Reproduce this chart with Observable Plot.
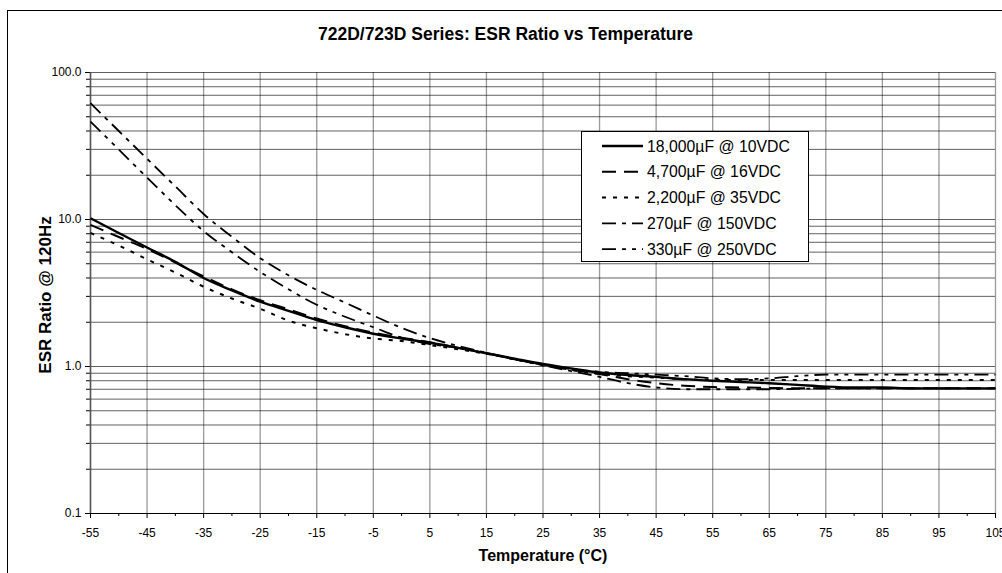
<!DOCTYPE html>
<html><head><meta charset="utf-8">
<script src="https://cdn.jsdelivr.net/npm/d3@7"></script>
<script src="https://cdn.jsdelivr.net/npm/@observablehq/plot@0.6"></script>
<style>
body{margin:0;background:#fff;font-family:"Liberation Sans",Arial,sans-serif;}
#wrap{position:relative;width:1002px;height:573px;overflow:hidden;background:#fff;}
#wrap svg{position:absolute;left:0;top:0;}
#border{position:absolute;left:7px;top:10px;width:1100px;height:700px;border:1px solid #000;box-sizing:border-box;pointer-events:none;}
</style></head><body><div id="wrap"><div id="border"></div></div>
<script>
const titleText = "722D/723D Series: ESR Ratio vs Temperature";
const xLabel = "Temperature (°C)";
const yLabel = "ESR Ratio @ 120Hz";

const temps = [-55,-50,-45,-40,-35,-30,-25,-20,-15,-10,-5,0,5,10,15,20,25,30,35,40,45,50,55,60,65,70,75,80,85,90,95,100,105];
const s18000_10 = [10.2,8.1,6.45,5.15,4.0,3.29,2.76,2.39,2.07,1.85,1.67,1.55,1.45,1.34,1.23,1.13,1.04,0.97,0.91,0.875,0.85,0.82,0.80,0.785,0.77,0.75,0.73,0.72,0.72,0.71,0.71,0.71,0.71];
const s4700_16 = [9.2,7.6,6.3,5.1,4.1,3.35,2.82,2.45,2.12,1.88,1.70,1.57,1.46,1.34,1.23,1.12,1.03,0.95,0.89,0.82,0.77,0.74,0.725,0.72,0.715,0.71,0.71,0.71,0.71,0.71,0.71,0.71,0.71];
const s2200_35 = [8.1,6.65,5.36,4.36,3.49,2.9,2.47,2.05,1.82,1.66,1.55,1.49,1.40,1.31,1.22,1.12,1.02,0.95,0.89,0.86,0.84,0.82,0.81,0.81,0.81,0.81,0.81,0.81,0.81,0.81,0.81,0.81,0.81];
const s270_150 = [61.8,40,25.9,16.8,10.9,7.63,5.46,4.17,3.32,2.72,2.22,1.83,1.56,1.38,1.24,1.12,1.02,0.93,0.85,0.77,0.72,0.70,0.70,0.70,0.70,0.705,0.71,0.71,0.71,0.71,0.71,0.71,0.71];
const s330_250 = [46.4,29.9,19.3,12.5,8.34,5.99,4.4,3.35,2.63,2.18,1.85,1.57,1.42,1.34,1.23,1.12,1.03,0.96,0.92,0.90,0.88,0.86,0.83,0.82,0.83,0.86,0.88,0.88,0.88,0.88,0.88,0.88,0.88];

const seriesNames = ["18,000µF @ 10VDC","4,700µF @ 16VDC","2,200µF @ 35VDC","270µF @ 150VDC","330µF @ 250VDC"];
const seriesValues = [s18000_10, s4700_16, s2200_35, s270_150, s330_250];
const seriesDash = [null, "14,8", "4,7", "14,6,4,6", "14,6,4,6,4,6"];
const seriesWidth = [2.4, 2, 2, 1.8, 1.8];

const xTicks = [-55,-45,-35,-25,-15,-5,5,15,25,35,45,55,65,75,85,95,105];
const xMinorTicks = [-50,-40,-30,-20,-10,0,10,20,30,40,50,60,70,80,90,100];
const yMajor = [0.1,1,10,100];
const yMinor = [0.2,0.3,0.4,0.5,0.6,0.7,0.8,0.9,2,3,4,5,6,7,8,9,20,30,40,50,60,70,80,90];

const rows = temps.flatMap((t,i) => seriesNames.map((name,k) => ({T:t, v:seriesValues[k][i], s:name})));

const lineMarks = seriesNames.map((name,k) => Plot.line(rows.filter(d => d.s === name), {
  x:"T", y:"v", stroke:"#000", strokeWidth:seriesWidth[k],
  strokeDasharray: seriesDash[k] || undefined, curve:"monotone-x", strokeLinecap:"butt"
}));

const font = "Liberation Sans, Arial, sans-serif";

const svg = Plot.plot({
  width:1002, height:573,
  marginLeft:90, marginRight:7, marginTop:72, marginBottom:60,
  style:{fontFamily:font, fontSize:"12px", background:"transparent", color:"#000"},
  x:{domain:[-55,105]},
  y:{type:"log", domain:[0.1,100]},
  marks:[
    Plot.gridX(xTicks, {stroke:"#9a9a9a", strokeOpacity:1, strokeWidth:1.3}),
    Plot.gridY(yMinor.concat(yMajor), {stroke:"#000", strokeOpacity:0.62, strokeWidth:1}),
    Plot.axisX({ticks:xTicks, tickSize:5, tickPadding:10, tickFormat:d => String(d), fontSize:12, label:null}),
    Plot.axisX({ticks:xMinorTicks, tickSize:3, tickFormat:() => "", label:null}),
    Plot.axisY({ticks:yMajor, tickSize:5, tickPadding:4, tickFormat:d => d.toFixed(1), fontSize:12, label:null}),
    Plot.axisY({ticks:yMinor, tickSize:4, tickFormat:() => "", label:null}),
    Plot.ruleY([0.1], {stroke:"#000", strokeWidth:1.2}),
    Plot.ruleX([-55], {stroke:"#555", strokeWidth:1.5}),
    ...lineMarks,
    Plot.text([titleText], {frameAnchor:"top-left", dx:415, dy:-38, text:d => d, fontWeight:"bold", fontSize:17.5, textAnchor:"middle", lineAnchor:"middle"}),
    Plot.text([xLabel], {frameAnchor:"bottom", dy:42, text:d => d, fontWeight:"bold", fontSize:16, textAnchor:"middle", lineAnchor:"middle"}),
    Plot.text([yLabel], {frameAnchor:"left", dx:-45, dy:2, text:d => d, fontWeight:"bold", fontSize:17, rotate:-90, textAnchor:"middle", lineAnchor:"middle"})
  ]
});

// legend
const lg = d3.select(svg).append("g").attr("font-family", font).attr("font-size", 15.8).attr("text-anchor","start");
lg.append("rect").attr("x",581.5).attr("y",131.5).attr("width",227).attr("height",130)
  .attr("fill","#fff").attr("stroke","#000").attr("stroke-width",1);
seriesNames.forEach((name,k) => {
  const y = 146 + k*25.8;
  const ln = lg.append("line").attr("x1",602).attr("x2",643).attr("y1",y).attr("y2",y)
    .attr("stroke","#000").attr("stroke-width",seriesWidth[k]);
  if (seriesDash[k]) ln.attr("stroke-dasharray", seriesDash[k]);
  lg.append("text").attr("x",647).attr("y",y).attr("dy","0.35em").attr("text-anchor","start").text(name);
});

document.getElementById("wrap").prepend(svg);
</script></body></html>
